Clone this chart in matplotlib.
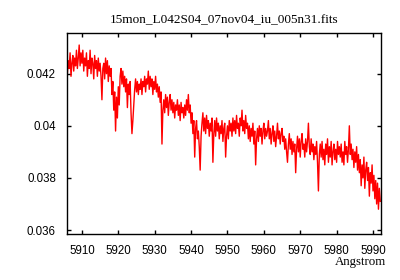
import numpy as np
import matplotlib
matplotlib.use("Agg")
from matplotlib import pyplot as plt
from matplotlib.ticker import FormatStrFormatter

# spectrum header values (start wavelength and step, Angstrom)
crval = 5906.0
cdelt = 0.25

# flux in units of 1e-3 (20 points = 5 Angstrom per row)
flux_e3 = [
    42.0, 42.5, 42.2, 42.8, 41.9, 42.4, 42.7, 42.1, 42.6, 42.3, 42.9, 42.2, 42.6, 43.1, 42.3, 42.8, 42.4, 42.9, 42.1, 42.6,
    42.3, 42.8, 41.9, 42.5, 42.2, 42.9, 42.0, 42.6, 42.4, 41.8, 42.7, 42.2, 42.5, 41.9, 42.6, 42.1, 42.4, 41.9, 41.0, 42.2,
    42.4, 41.8, 42.6, 42.0, 42.5, 41.7, 42.3, 41.9, 42.2, 41.2, 41.7, 40.6, 41.3, 39.8, 41.1, 40.3, 41.5, 40.8, 41.9, 42.2,
    41.6, 42.1, 41.5, 41.9, 41.3, 41.8, 40.7, 41.6, 41.2, 41.7, 40.5, 39.7, 40.2, 40.8, 41.4, 41.8, 41.3, 41.7, 41.2, 41.6,
    41.4, 41.8, 41.2, 41.7, 41.5, 41.9, 41.3, 41.8, 41.6, 42.1, 41.4, 41.9, 41.5, 41.8, 41.2, 41.7, 41.4, 41.9, 41.3, 41.6,
    41.1, 41.5, 40.9, 41.3, 39.3, 40.6, 41.0, 40.5, 41.2, 40.7, 41.1, 40.4, 40.9, 41.2, 40.6, 41.0, 40.5, 40.9, 40.3, 40.8,
    40.6, 41.0, 40.4, 40.8, 40.2, 40.9, 40.5, 40.7, 40.3, 40.8, 40.4, 41.0, 40.6, 41.2, 40.5, 40.8, 40.1, 40.5, 39.7, 40.2,
    38.8, 39.9, 40.2, 39.5, 39.8, 39.2, 38.3, 39.6, 40.1, 40.5, 39.8, 40.3, 39.7, 40.4, 39.9, 40.2, 39.6, 40.1, 39.8, 40.3,
    38.6, 39.7, 40.2, 39.6, 40.3, 39.8, 40.1, 39.5, 40.0, 39.7, 40.2, 39.4, 39.9, 40.1, 38.8, 39.6, 40.0, 39.5, 40.2, 39.8,
    40.1, 39.6, 40.3, 39.8, 40.2, 39.7, 40.4, 39.9, 40.1, 39.6, 40.3, 40.0, 40.6, 39.8, 40.2, 39.7, 40.4, 39.9, 40.1, 39.5,
    40.0, 39.4, 39.9, 39.6, 40.1, 39.3, 39.8, 38.5, 39.5, 39.9, 39.4, 40.0, 39.6, 39.9, 39.3, 39.8, 40.1, 39.5, 39.9, 39.6,
    39.8, 40.2, 39.5, 39.9, 39.3, 39.7, 40.0, 39.4, 39.8, 39.2, 39.6, 40.1, 39.5, 39.8, 39.3, 39.7, 39.9, 39.4, 39.6, 39.1,
    39.5, 39.0, 38.6, 39.3, 39.7, 39.1, 39.5, 38.9, 39.4, 39.0, 39.3, 38.2, 39.1, 39.6, 39.0, 39.5, 38.8, 39.4, 39.7, 39.1,
    39.3, 38.8, 39.5, 39.0, 39.4, 40.1, 39.2, 38.9, 39.5, 39.0, 39.3, 38.7, 39.2, 38.9, 39.4, 38.6, 37.5, 38.9, 39.3, 38.8,
    39.4, 38.7, 39.1, 38.5, 39.3, 38.9, 39.5, 38.6, 39.2, 38.8, 39.4, 38.5, 39.0, 39.3, 38.7, 39.1, 38.6, 39.4, 38.9, 39.2,
    38.8, 39.3, 38.6, 39.0, 38.5, 39.4, 38.9, 39.2, 38.6, 39.1, 40.0, 38.9, 39.3, 38.7, 39.1, 38.4, 39.0, 38.6, 39.2, 38.3,
    38.9, 38.2, 38.7, 37.7, 38.5, 38.0, 38.8, 37.6, 38.3, 38.6, 37.9, 38.4, 37.3, 38.2, 37.8, 38.5, 37.5, 38.1, 37.2, 37.9,
    37.0, 37.8, 36.8, 37.6, 37.1,
]

title = "15mon_L042S04_07nov04_iu_005n31.fits"
xticks = [5910, 5920, 5930, 5940, 5950, 5960, 5970, 5980, 5990]
yticks = [0.036, 0.038, 0.040, 0.042]

flux = np.array(flux_e3) * 1e-3
wave = crval + cdelt * np.arange(len(flux))

fig = plt.figure(figsize=(4, 2.8), dpi=100)
ax = fig.add_axes([0.1675, 0.1654, 0.785, 0.7166])

ax.plot(wave, flux, color="red", lw=1.0)

ax.set_xlim(5905.9, 5992.2)
ax.set_ylim(0.03586, 0.04356)
ax.set_xticks(xticks)
ax.set_yticks(yticks)
ax.yaxis.set_major_formatter(FormatStrFormatter("%g"))

ax.tick_params(direction="in", top=True, right=True, length=3, width=1,
               labelsize=8.3, pad=8)
for lab in ax.get_xticklabels() + ax.get_yticklabels():
    lab.set_family("Liberation Sans")
for s in ax.spines.values():
    s.set_linewidth(1.0)

ax.set_title(title, family="Liberation Serif", fontsize=9.5, pad=7)
ax.text(1.016, -0.141, "Angstrom", transform=ax.transAxes, ha="right",
        va="center", family="Liberation Serif", fontsize=9.3)

fig.savefig("out.png", dpi=100)
